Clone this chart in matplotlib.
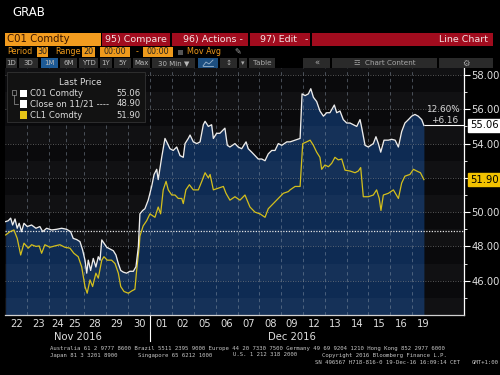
# plot.py
# Bloomberg style GRAB of Brent (CO1) vs WTI (CL1), 30 min bars, Nov/Dec 2016

import numpy as np
import matplotlib
matplotlib.use("Agg")
import matplotlib.pyplot as plt
from matplotlib.patches import Rectangle
from matplotlib.transforms import blended_transform_factory

# ---------------------------------------------------------------------
# data read off the screen grab
# time is in trading days counted from the 22 Nov open
# ---------------------------------------------------------------------
brent_t = [0.00, 0.12, 0.23, 0.32, 0.43, 0.53, 0.62, 0.73, 0.84, 0.99,
           1.19, 1.39, 1.57, 1.70, 1.88, 2.11, 2.34, 2.57, 2.80, 2.98,
           3.10, 3.26, 3.41, 3.53, 3.64, 3.72, 3.79, 3.90, 4.02, 4.14,
           4.25, 4.33, 4.41, 4.51, 4.64, 4.79, 4.94, 5.06, 5.17, 5.28,
           5.40, 5.55, 5.70, 5.86, 5.98, 6.09, 6.16, 6.29, 6.39, 6.54,
           6.70, 6.81, 6.93, 7.00, 7.16, 7.31, 7.39, 7.54, 7.69, 7.85,
           8.00, 8.15, 8.23, 8.38, 8.46, 8.61, 8.77, 8.92, 9.07, 9.15,
           9.30, 9.45, 9.53, 9.68, 9.83, 10.06, 10.17, 10.29, 10.52, 10.67,
           10.83, 11.03, 11.13, 11.29, 11.44, 11.59, 11.75, 11.90, 12.05, 12.21,
           12.36, 12.51, 12.67, 12.90, 13.05, 13.28, 13.51, 13.60, 13.74, 13.89,
           14.00, 14.12, 14.27, 14.42, 14.58, 14.73, 14.88, 15.08, 15.19, 15.34,
           15.49, 15.65, 15.80, 15.95, 16.11, 16.26, 16.34, 16.49, 16.64, 16.87,
           16.99, 17.10, 17.21, 17.36, 17.56, 17.71, 17.87, 18.02, 18.17, 18.32,
           18.48, 18.63, 18.78, 18.93, 19.09, 19.19]
brent_px = [49.45, 49.50, 49.65, 49.25, 49.60, 49.06, 49.35, 48.86, 49.35, 49.16,
            49.25, 49.06, 49.16, 48.86, 49.06, 48.96, 49.00, 49.06, 49.00, 48.86,
            48.47, 48.40, 48.28, 47.80, 47.20, 46.44, 47.20, 46.60, 47.30, 46.80,
            47.40, 47.20, 48.38, 48.19, 47.95, 47.85, 47.75, 47.50, 47.00, 46.60,
            46.50, 46.44, 46.55, 46.55, 46.82, 48.00, 49.90, 50.10, 50.20, 50.70,
            51.50, 52.20, 52.50, 51.90, 53.20, 54.30, 54.10, 53.70, 53.60, 53.80,
            53.30, 53.20, 54.00, 54.30, 54.50, 54.10, 54.00, 54.10, 55.10, 55.30,
            55.00, 55.10, 54.30, 54.60, 54.60, 54.90, 53.90, 53.80, 54.00, 53.80,
            53.70, 54.10, 53.70, 53.50, 53.30, 53.10, 53.10, 53.00, 53.40, 53.60,
            53.60, 54.00, 53.90, 54.10, 54.10, 54.20, 54.30, 56.90, 56.80, 56.90,
            57.20, 56.70, 56.45, 55.90, 55.60, 55.80, 55.80, 56.25, 55.80, 55.90,
            55.40, 55.20, 55.20, 55.10, 55.00, 55.40, 54.90, 53.90, 53.80, 54.00,
            54.40, 54.00, 53.50, 54.20, 54.20, 54.25, 54.20, 53.80, 54.70, 55.20,
            55.40, 55.60, 55.70, 55.60, 55.40, 55.06]

wti_t = [0.00, 0.20, 0.38, 0.53, 0.69, 0.84, 1.04, 1.19, 1.39, 1.54,
         1.65, 1.80, 2.03, 2.26, 2.49, 2.72, 2.95, 3.13, 3.33, 3.49,
         3.64, 3.74, 3.87, 3.99, 4.14, 4.25, 4.41, 4.51, 4.66, 4.86,
         5.02, 5.17, 5.28, 5.43, 5.63, 5.78, 5.93, 6.01, 6.13, 6.16,
         6.31, 6.47, 6.62, 6.85, 7.00, 7.11, 7.23, 7.36, 7.46, 7.62,
         7.77, 7.92, 8.08, 8.15, 8.27, 8.43, 8.61, 8.84, 9.00, 9.15,
         9.30, 9.38, 9.53, 9.76, 9.99, 10.11, 10.29, 10.52, 10.75, 10.98,
         11.21, 11.44, 11.67, 11.90, 12.05, 12.28, 12.51, 12.74, 12.97, 13.05,
         13.28, 13.51, 13.63, 13.81, 13.97, 14.12, 14.27, 14.42, 14.50, 14.65,
         14.81, 14.96, 15.11, 15.26, 15.42, 15.57, 15.80, 16.03, 16.18, 16.29,
         16.41, 16.64, 16.87, 17.02, 17.14, 17.22, 17.33, 17.56, 17.79, 18.02,
         18.17, 18.32, 18.55, 18.71, 18.86, 19.03, 19.19]
wti_px = [48.67, 48.86, 48.96, 48.47, 47.50, 48.19, 47.90, 48.10, 48.00, 48.03,
          47.60, 48.10, 47.95, 48.03, 48.10, 47.95, 47.90, 47.60, 47.40, 46.80,
          45.66, 45.27, 46.05, 45.66, 46.44, 46.15, 47.20, 47.40, 47.20, 47.20,
          47.00, 46.44, 45.66, 45.37, 45.27, 45.40, 45.50, 46.60, 48.00, 48.60,
          49.20, 49.50, 49.90, 49.70, 50.30, 49.90, 51.30, 51.80, 51.30, 51.00,
          51.00, 50.80, 50.80, 50.50, 51.30, 51.60, 51.30, 51.30, 51.80, 52.30,
          52.00, 52.20, 51.30, 51.40, 51.50, 51.10, 50.70, 50.90, 50.70, 51.00,
          50.30, 50.00, 49.90, 49.70, 50.20, 50.50, 50.80, 51.10, 51.20, 51.30,
          51.50, 51.50, 54.00, 54.10, 54.20, 53.90, 53.50, 53.20, 52.50, 52.75,
          52.65, 52.85, 53.20, 53.05, 53.10, 52.45, 52.40, 52.30, 52.40, 52.60,
          50.90, 50.90, 51.00, 51.30, 50.80, 50.10, 51.00, 51.10, 51.30, 50.80,
          51.70, 52.10, 52.20, 52.50, 52.40, 52.30, 51.90]

prev_close = 48.90  # close on 11/21

day_labels = ["22", "23", "24", "25", "28", "29", "30",
              "01", "02", "05", "06", "07", "08", "09",
              "12", "13", "14", "15", "16", "19"]
# thanksgiving sessions are shorter
day_widths = [1.0, 1.0, 0.77, 0.83, 1.0, 1.02, 1.02,
              1.0, 1.0, 1.0, 1.0, 1.0, 1.0, 1.0,
              1.0, 1.0, 1.0, 1.0, 1.0, 1.0]
month_labels = ["Nov 2016", "Dec 2016"]
month_first_day = [0, 7]
y_ticks = [46, 48, 50, 52, 54, 56, 58]

legend_names = ["C01 Comdty", "Close on 11/21 ----", "CL1 Comdty"]

W, H = 500, 375


def fx(x):
    return x / W


def fy(y):
    return 1 - y / H


def box(fig, x, y, w, h, color, edge=None, lw=0.0):
    fig.patches.append(Rectangle((fx(x), fy(y + h)), w / W, h / H,
                                 transform=fig.transFigure, facecolor=color,
                                 edgecolor=edge if edge else color, lw=lw))


def fline(fig, xs, ys, color, lw=0.6):
    fig.lines.append(plt.Line2D([fx(x) for x in xs], [fy(y) for y in ys],
                                transform=fig.transFigure, color=color, lw=lw))


def header(fig):
    """Terminal toolbar above the chart."""
    fig.text(fx(12), fy(13), "GRAB", color="white", fontsize=8.5, va="center")

    # row 1
    red = "#a10c1e"
    txt = "#f3e3e3"
    box(fig, 5, 33, 96, 13, "#f39c1f")
    fig.text(fx(7), fy(39.5), "C01 Comdty", color="#3b1600", fontsize=7.3, va="center")
    box(fig, 102, 33, 68, 13, red)
    fig.text(fx(136), fy(39.5), "95) Compare", color=txt, fontsize=6.8,
             va="center", ha="center")
    box(fig, 172, 33, 76, 13, red)
    fig.text(fx(183), fy(39.5), "96) Actions -", color=txt, fontsize=6.8, va="center")
    box(fig, 250, 33, 60, 13, red)
    fig.text(fx(260), fy(39.5), "97) Edit", color=txt, fontsize=6.8, va="center")
    fig.text(fx(305), fy(39.5), "-", color=txt, fontsize=6.8, va="center")
    box(fig, 312, 33, 181, 13, red)
    fig.text(fx(488), fy(40), "Line Chart", color=txt, fontsize=6.8,
             va="center", ha="right")

    # row 2
    orange = "#ee9a1c"
    fs = 5.8
    fig.text(fx(7), fy(52), "Period", color=orange, fontsize=fs, va="center")
    box(fig, 37, 47, 11, 10, orange)
    fig.text(fx(42.5), fy(52), "30", color="#222", fontsize=fs, va="center", ha="center")
    fig.text(fx(55), fy(52), "Range", color=orange, fontsize=fs, va="center")
    box(fig, 82, 47, 13, 10, orange)
    fig.text(fx(88.5), fy(52), "20", color="#222", fontsize=fs, va="center", ha="center")
    box(fig, 100, 47, 30, 10, orange)
    fig.text(fx(115), fy(52), "00:00", color="#222", fontsize=fs, va="center", ha="center")
    fig.text(fx(137), fy(52), "-", color=orange, fontsize=fs, va="center", ha="center")
    box(fig, 143, 47, 30, 10, orange)
    fig.text(fx(158), fy(52), "00:00", color="#222", fontsize=fs, va="center", ha="center")
    box(fig, 178, 49.5, 5, 5, "#555555")
    fig.text(fx(187), fy(52), "Mov Avg", color=orange, fontsize=fs, va="center")
    fig.text(fx(238), fy(52), "\u270e", color="#aaaaaa", fontsize=fs, va="center",
             ha="center", family=["DejaVu Sans"])

    # row 3
    btn = "#2a2a2a"
    buttons = [("1D", 6, 17), ("3D", 19, 38), ("1M", 41, 58), ("6M", 60, 77),
               ("YTD", 79, 98), ("1Y", 100, 112), ("5Y", 114, 131),
               ("Max", 133, 150), ("30 Min \u25bc", 152, 195)]
    for label, a, b in buttons:
        col = "#1d5a96" if label == "1M" else btn
        box(fig, a, 58, b - a, 10, col)
        fig.text(fx((a + b) / 2), fy(63), label, color="#b8b8b8", fontsize=5.0,
                 va="center", ha="center")
    # line chart icon button
    box(fig, 198, 58, 20, 10, "#1d4f80")
    fline(fig, [203, 206, 209, 213], [66, 62, 64, 60], "#9bb4cc")
    fline(fig, [203, 213], [66.3, 66.3], "#9bb4cc")
    box(fig, 220, 58, 17, 10, btn)
    fig.text(fx(228.5), fy(63), "\u2195", color="#aaa", fontsize=5.2, va="center", ha="center")
    box(fig, 239, 58, 8, 10, btn)
    fig.text(fx(243), fy(63), "\u25be", color="#aaa", fontsize=5, va="center", ha="center")
    box(fig, 249, 58, 26, 10, btn)
    fig.text(fx(262), fy(63), "Table", color="#a8a8a8", fontsize=5.2, va="center", ha="center")
    box(fig, 303, 58, 27, 10, btn)
    fig.text(fx(316.5), fy(63), "\u00ab", color="#a8a8a8", fontsize=6, va="center", ha="center")
    box(fig, 332, 58, 105, 10, btn)
    fig.text(fx(384.5), fy(63), "\u2632  Chart Content", color="#a8a8a8", fontsize=5.2,
             va="center", ha="center")
    box(fig, 439, 58, 54, 10, btn)
    fig.text(fx(466), fy(63), "\u2699", color="#a8a8a8", fontsize=6, va="center", ha="center")


def legend(fig):
    """Last Price box in the top left of the chart."""
    box(fig, 7, 72, 138, 50, "#121212", edge="#333333", lw=0.6)
    fig.text(fx(80), fy(82.5), "Last Price", color="#dcdcdc", fontsize=6.3,
             va="center", ha="center")
    values = [brent_px[-1], prev_close, wti_px[-1]]
    colors = ["white", "white", "#e5c417"]
    rows = [93.3, 104, 115]
    for name, val, col, y in zip(legend_names, values, colors, rows):
        box(fig, 20, y - 3.5, 7, 7, col)
        fig.text(fx(30.5), fy(y), name, color="#dcdcdc", fontsize=6.1, va="center")
        fig.text(fx(140.5), fy(y), f"{val:.2f}", color="#dcdcdc", fontsize=6.1,
                 va="center", ha="right")
    # tree marker
    box(fig, 12, 90.5, 4, 4, "#121212", edge="#999999", lw=0.5)
    fline(fig, [14, 14, 18], [94.5, 104, 104], "#999999", lw=0.5)


def footer(fig):
    mono = ["DejaVu Sans Mono"]
    c = "#c8c8c8"
    fs = 4.1
    lines = [
        (50, 350, "Australia 61 2 9777 8600 Brazil 5511 2395 9000 Europe 44 20 7330 7500 "
                  "Germany 49 69 9204 1210 Hong Kong 852 2977 6000"),
        (50, 356.5, "Japan 81 3 3201 8900"),
        (138, 356.5, "Singapore 65 6212 1000"),
        (233, 356.5, "U.S. 1 212 318 2000"),
        (322, 356.5, "Copyright 2016 Bloomberg Finance L.P."),
        (315, 364, "SN 496567 H718-816-0 19-Dec-16 16:09:14 CET"),
        (472, 364, "GMT+1:00"),
    ]
    for x, y, s in lines:
        fig.text(fx(x), fy(y), s, color=c, fontsize=fs, family=mono, va="baseline")


fig = plt.figure(figsize=(W / 100, H / 100), dpi=100, facecolor="black")
ax = fig.add_axes([fx(5), fy(315), (464 - 5) / W, (315 - 68) / H])
ax.set_facecolor("#0a0a0c")

x_lo, x_hi = -0.03, 21.03
y_lo, y_hi = 44.0, 58.41

day_starts = np.concatenate([[0.0], np.cumsum(day_widths)[:-1]])
day_mid = day_starts + np.array(day_widths) / 2

# filled area under Brent
ax.fill_between(brent_t, brent_px, y_lo, color="#0e2b53", lw=0, zorder=1)

# alternating one-dollar bands
for k in range(44, 59, 2):
    ax.axhspan(k, k + 1, color="white", alpha=0.03, lw=0, zorder=2)

# grid
for d in day_starts[1:]:
    ax.axvline(d, color="#8c9aaa", alpha=0.55, lw=0.6, ls=(0, (4, 4)), zorder=3)
for v in y_ticks:
    ax.axhline(v, color="#8a8a8a", alpha=0.8, lw=0.6, ls=(0, (1, 2)), zorder=3)
ax.axhline(prev_close, color="#e4e4e4", lw=0.9, ls=(0, (1, 1.2)), zorder=4)

# price lines
ax.plot(wti_t, wti_px, color="#d4bf1c", lw=0.9, zorder=5)
ax.plot(brent_t, brent_px, color="#ececec", lw=0.95, zorder=6)
ax.hlines(brent_px[-1], brent_t[-1], x_hi, color="white", lw=0.8, zorder=6)

ax.set_xlim(x_lo, x_hi)
ax.set_ylim(y_lo, y_hi)

for s in ["left", "top"]:
    ax.spines[s].set_visible(False)
ax.spines["right"].set_color("white")
ax.spines["bottom"].set_color("#d0d0d0")
ax.spines["right"].set_linewidth(0.9)
ax.spines["bottom"].set_linewidth(0.9)

# a tick label hidden behind a last-price tag is left blank
tags = [brent_px[-1], wti_px[-1]]
ax.yaxis.tick_right()
ax.set_yticks(y_ticks)
ax.set_yticklabels(["" if min(abs(v - t) for t in tags) < 0.6 else f"{v:.2f}"
                    for v in y_ticks])
ax.set_yticks(range(45, 58, 2), minor=True)
ax.tick_params(axis="y", which="major", colors="white", labelcolor="#dedede",
               labelsize=7.2, length=4, width=0.8, pad=1.5)
ax.tick_params(axis="y", which="minor", colors="white", length=2, width=0.6)

ax.set_xticks(day_mid)
ax.set_xticklabels(day_labels)
ax.tick_params(axis="x", length=0, labelsize=7.2, labelcolor="#dedede", pad=3)

trans = blended_transform_factory(ax.transData, ax.transAxes)
month_edges = list(day_starts[month_first_day]) + [day_starts[-1] + 1.0]
for i, label in enumerate(month_labels):
    ax.text((month_edges[i] + month_edges[i + 1]) / 2, -0.088, label,
            transform=trans, color="#dedede", fontsize=7.2, ha="center", va="center")
ax.plot([day_starts[month_first_day[1]]] * 2, [0, -0.105], transform=trans,
        color="white", lw=0.8, clip_on=False)

# right hand tags
ytrans = blended_transform_factory(ax.transAxes, ax.transData)
ax.text(1.013, brent_px[-1], f"{brent_px[-1]:.2f}", transform=ytrans,
        color="black", fontsize=7.2, va="center", ha="left",
        bbox=dict(boxstyle="square,pad=0.18", fc="white", ec="white"))
ax.text(1.013, wti_px[-1], f"{wti_px[-1]:.2f}", transform=ytrans,
        color="black", fontsize=7.2, va="center", ha="left",
        bbox=dict(boxstyle="square,pad=0.18", fc="#f2c200", ec="#f2c200"))

chg = brent_px[-1] - prev_close
ax.text(0.99, brent_px[-1] + 0.9, f"{chg / prev_close * 100:.2f}%", transform=ytrans,
        color="#d8d8d8", fontsize=6.4, va="center", ha="right", zorder=7)
ax.text(0.928, brent_px[-1] + 0.3, f"{chg:+.2f}", transform=ytrans,
        color="#d8d8d8", fontsize=6.4, va="center", ha="left", zorder=7)

header(fig)
legend(fig)
footer(fig)

fig.savefig("out.png", dpi=100, facecolor="black")
